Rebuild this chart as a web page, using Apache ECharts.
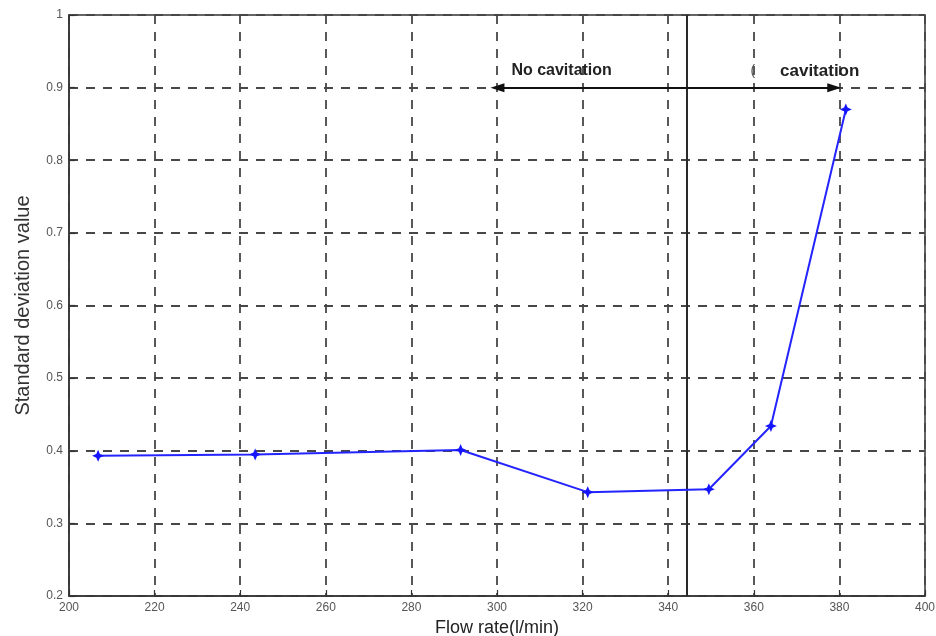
<!DOCTYPE html>
<html>
<head>
<meta charset="utf-8">
<script src="https://cdn.jsdelivr.net/npm/echarts@6/dist/echarts.min.js"></script>
<style>
  html, body { margin: 0; padding: 0; background: #fff; }
  #chart { width: 936px; height: 636px; }
</style>
</head>
<body>
<div id="chart"></div>
<script>
// Measured flow rates (l/min) and the standard deviation of the signal at each
const flowRate = [206.8, 243.5, 291.5, 321.2, 349.5, 364.0, 381.5];
const stdValue = [0.393, 0.395, 0.401, 0.343, 0.347, 0.434, 0.870];

// Axis ranges and steps
const xTicks = { min: 200, max: 400, step: 20 };
const yTicks = { min: 0.2, max: 1.0, step: 0.1 };

// Cavitation onset and the region arrows drawn at the 0.9 level
const onsetFlow = 344.4;
const arrowLevel = 0.9;
const noCavEnd = 300.1;
const cavEnd = 378.8;
const regionLabels = ['No cavitation', 'cavitation', '('];
const regionLabelX = [315.1, 375.4, 359.8];
const regionLabelY = [0.923, 0.923, 0.923];
const regionLabelSize = [16, 17, 14];
const regionLabelWeight = ['bold', 'bold', 'normal'];

const chart = echarts.init(document.getElementById('chart'), null, { renderer: 'canvas' });

const dashStyle = { color: '#474747', width: 1.8, type: [9, 8] };
const font = 'Liberation Sans, Arial, sans-serif';

chart.setOption({
  animation: false,
  backgroundColor: '#ffffff',
  grid: {
    left: 69, right: 11, top: 15, bottom: 40,
    outerBoundsMode: 'none',
    containLabel: false,
    show: true, borderColor: '#333', borderWidth: 1.5, backgroundColor: 'transparent'
  },
  xAxis: {
    type: 'value',
    min: xTicks.min, max: xTicks.max, interval: xTicks.step,
    name: 'Flow rate(l/min)',
    nameLocation: 'middle', nameGap: 23,
    nameTextStyle: { fontFamily: font, fontSize: 18, color: '#222' },
    axisLine: { show: true, lineStyle: { color: '#333', width: 1.5 } },
    axisTick: { show: true, inside: true, length: 6, lineStyle: { color: '#333', width: 1.2 } },
    axisLabel: { fontFamily: font, fontSize: 12, color: '#555', margin: 6 },
    splitLine: { show: true, lineStyle: dashStyle }
  },
  yAxis: {
    type: 'value',
    min: yTicks.min, max: yTicks.max, interval: yTicks.step,
    name: 'Standard deviation value',
    nameLocation: 'middle', nameGap: 36,
    nameTextStyle: { fontFamily: font, fontSize: 20, color: '#333' },
    axisLine: { show: true, lineStyle: { color: '#333', width: 1.5 } },
    axisTick: { show: true, inside: true, length: 6, lineStyle: { color: '#333', width: 1.2 } },
    axisLabel: {
      fontFamily: font, fontSize: 12, color: '#555', margin: 6,
      formatter: v => (Math.round(v * 10) / 10).toString()
    },
    splitLine: { show: true, lineStyle: dashStyle }
  },
  series: [{
    type: 'line',
    data: flowRate.map((x, i) => [x, stdValue[i]]),
    symbol: 'path://M0,-6 L1.8,-1.8 L6,0 L1.8,1.8 L0,6 L-1.8,1.8 L-6,0 L-1.8,-1.8 Z',
    symbolSize: 12,
    showSymbol: true,
    lineStyle: { color: '#2424ff', width: 2 },
    itemStyle: { color: '#1414ff' },
    z: 5,
    markLine: {
      silent: true,
      animation: false,
      label: { show: false },
      data: [
        [
          { coord: [onsetFlow, yTicks.min], symbol: 'none' },
          { coord: [onsetFlow, yTicks.max], symbol: 'none', lineStyle: { color: '#2a2a2a', width: 2, type: 'solid' } }
        ],
        [
          { coord: [onsetFlow, arrowLevel], symbol: 'none' },
          { coord: [noCavEnd, arrowLevel], symbol: 'triangle', symbolSize: [9, 14], lineStyle: { color: '#111', width: 2, type: 'solid' } }
        ],
        [
          { coord: [onsetFlow, arrowLevel], symbol: 'none' },
          { coord: [cavEnd, arrowLevel], symbol: 'triangle', symbolSize: [9, 14], lineStyle: { color: '#111', width: 2, type: 'solid' } }
        ]
      ],
      lineStyle: { color: '#111', width: 2, type: 'solid' },
      itemStyle: { color: '#111' }
    },
    markPoint: {
      silent: true,
      animation: false,
      symbol: 'circle',
      symbolSize: 1,
      itemStyle: { color: 'rgba(0,0,0,0)' },
      data: regionLabels.map((t, i) => ({
        coord: [regionLabelX[i], regionLabelY[i]],
        value: t,
        label: {
          show: true, position: 'inside', formatter: t,
          fontFamily: font, fontSize: regionLabelSize[i], fontWeight: regionLabelWeight[i],
          color: i === 2 ? '#555' : '#222'
        }
      }))
    }
  }]
});
</script>
</body>
</html>
